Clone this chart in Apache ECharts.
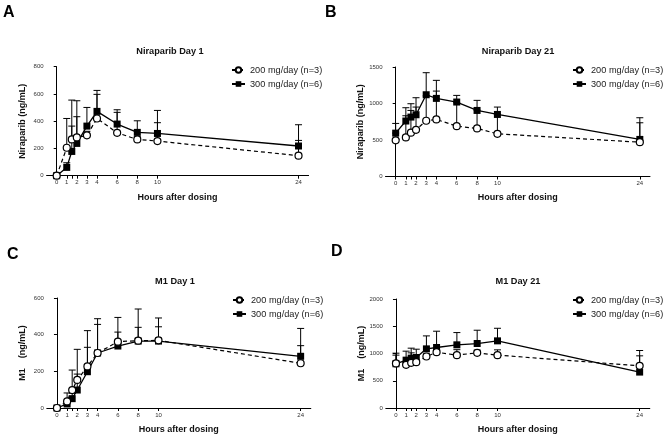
<!DOCTYPE html>
<html>
<head>
<meta charset="utf-8">
<script src="https://cdn.jsdelivr.net/npm/echarts@6/dist/echarts.min.js"></script>
<style>html,body{margin:0;padding:0;background:#fff}#c{width:666px;height:438px}</style>
</head>
<body>
<div id="c"></div>
<script>
// ---- data ----
const times = [0, 1, 1.5, 2, 3, 4, 6, 8, 10, 24];
const tickHours = [0, 1, 1.5, 2, 3, 4, 6, 8, 10, 24];
const labelHours = [0, 1, 2, 3, 4, 6, 8, 10, 24];
const seriesNames = ['200 mg/day (n=3)', '300 mg/day (n=6)'];
const panelLetters = ['A', 'B', 'C', 'D'];
const panelTitles = ['Niraparib Day 1', 'Niraparib Day 21', 'M1 Day 1', 'M1 Day 21'];
const yNames = ['Niraparib (ng/mL)', 'Niraparib (ng/mL)', 'M1    (ng/mL)', 'M1    (ng/mL)'];
const yMax = [800, 1500, 600, 2000];
const yInterval = [200, 500, 200, 500];

// Panel A: Niraparib Day 1
const nirD1_200 = [0, 205, 266, 281, 296, 420, 315, 266, 254, 147];
const nirD1_200_sd = [0, 215, 289, 269, 30, 177, 150, 20, 135, 112];
const nirD1_300 = [0, 61, 178, 237, 364, 472, 379, 318, 310, 218];
const nirD1_300_sd = [0, 34, 186, 196, 137, 154, 105, 85, 169, 156];
// Panel B: Niraparib Day 21
const nirD21_200 = [495, 535, 600, 640, 764, 782, 690, 658, 585, 470];
const nirD21_200_sd = [100, 297, 305, 311, 340, 388, 320, 250, 270, 266];
const nirD21_300 = [594, 760, 814, 846, 1120, 1070, 1020, 905, 850, 508];
const nirD21_300_sd = [133, 182, 183, 233, 302, 247, 91, 138, 101, 297];
// Panel C: M1 Day 1
const m1D1_200 = [0, 36, 98, 153, 227, 300, 362, 367, 369, 244];
const m1D1_200_sd = [0, 46, 109, 167, 195, 187, 132, 173, 122, 96];
const m1D1_300 = [0, 22, 51, 98, 198, 300, 338, 365, 365, 282];
const m1D1_300_sd = [0, 15, 30, 87, 133, 156, 76, 75, 78, 152];
// Panel D: M1 Day 21
const m1D21_200 = [817, 793, 829, 841, 945, 1024, 970, 1012, 970, 774];
const m1D21_200_sd = [153, 40, 183, 30, 50, 50, 100, 50, 97, 281];
const m1D21_300 = [811, 878, 915, 927, 1085, 1110, 1159, 1183, 1232, 659];
const m1D21_300_sd = [195, 165, 183, 152, 238, 299, 225, 244, 231, 298];

const panels = [
  [nirD1_200, nirD1_200_sd, nirD1_300, nirD1_300_sd],
  [nirD21_200, nirD21_200_sd, nirD21_300, nirD21_300_sd],
  [m1D1_200, m1D1_200_sd, m1D1_300, m1D1_300_sd],
  [m1D21_200, m1D21_200_sd, m1D21_300, m1D21_300_sd]
];

// ---- layout ----
const FONT = 'Liberation Sans, Arial, sans-serif';
const grids = [
  {left: 46.6, top: 66.7, width: 262, height: 109},
  {left: 385.5, top: 67, width: 264.5, height: 109.5},
  {left: 46.8, top: 298, width: 264, height: 110},
  {left: 385.8, top: 299, width: 264, height: 109}
];
const letterPos = [[3, 5], [325, 5], [7, 247], [331, 244]];
const titlePos = [[170, 47], [518, 47], [175, 277], [518, 277]];
const legendPos = [[231, 65.5], [572, 65.5], [232, 295.5], [572, 295.5]];

const chart = echarts.init(document.getElementById('c'), null, {renderer: 'canvas'});

const title = [], xAxis = [], yAxis = [], legend = [], series = [];
panels.forEach((p, i) => {
  title.push({text: panelLetters[i], left: letterPos[i][0], top: letterPos[i][1], padding: 0,
    textStyle: {fontFamily: FONT, fontWeight: 'bold', fontSize: 16, color: '#000'}});
  title.push({text: panelTitles[i], left: titlePos[i][0], top: titlePos[i][1], padding: 0, textAlign: 'center',
    textStyle: {fontFamily: FONT, fontWeight: 'bold', fontSize: 9.2, color: '#111'}});
  xAxis.push({
    type: 'value', gridIndex: i, min: -1, max: 25,
    name: 'Hours after dosing', nameLocation: 'middle', nameGap: 17,
    nameTextStyle: {fontFamily: FONT, fontWeight: 'bold', fontSize: 9, color: '#111'},
    axisLine: {show: true, onZero: false, lineStyle: {color: '#000', width: 1}},
    axisTick: {show: true, length: 3, customValues: tickHours, lineStyle: {color: '#000'}},
    axisLabel: {customValues: labelHours, fontFamily: FONT, fontSize: 6, color: '#333', margin: 4},
    splitLine: {show: false}
  });
  yAxis.push({
    type: 'value', gridIndex: i, min: 0, max: yMax[i], interval: yInterval[i],
    name: yNames[i], nameLocation: 'middle', nameGap: 20, nameRotate: 90,
    nameTextStyle: {fontFamily: FONT, fontWeight: 'bold', fontSize: 9, color: '#111'},
    axisLine: {show: true, lineStyle: {color: '#000', width: 1}},
    axisTick: {show: true, length: 3, lineStyle: {color: '#000'}},
    axisLabel: {fontFamily: FONT, fontSize: 6, color: '#333', margin: 3, formatter: v => String(v)},
    splitLine: {show: false}
  });
  legend.push({
    data: seriesNames, orient: 'vertical', left: legendPos[i][0], top: legendPos[i][1],
    padding: 0, itemWidth: 13, itemHeight: 7, itemGap: 5,
    textStyle: {fontFamily: FONT, fontSize: 9.2, color: '#222'}, selectedMode: false
  });
  const [m200, s200, m300, s300] = p;
  const errSeries = (means, sds, nm) => ({
    type: 'custom', name: nm, xAxisIndex: i, yAxisIndex: i, silent: true, z: 1,
    data: times.map((t, k) => [t, means[k], sds[k]]),
    encode: {x: 0, y: 1},
    renderItem: (params, api) => {
      const x = api.value(0), m = api.value(1), s = api.value(2);
      const a = api.coord([x, m]), b = api.coord([x, m + s]);
      const st = {stroke: '#000', lineWidth: 1};
      return {type: 'group', children: [
        {type: 'line', shape: {x1: a[0], y1: a[1], x2: b[0], y2: b[1]}, style: st},
        {type: 'line', shape: {x1: b[0] - 3.5, y1: b[1], x2: b[0] + 3.5, y2: b[1]}, style: st}
      ]};
    }
  });
  series.push(errSeries(m300, s300, 'err300_' + i));
  series.push(errSeries(m200, s200, 'err200_' + i));
  series.push({
    type: 'line', name: seriesNames[1], xAxisIndex: i, yAxisIndex: i, z: 3,
    data: times.map((t, k) => [t, m300[k]]),
    symbol: 'rect', symbolSize: 7, showAllSymbol: true,
    itemStyle: {color: '#000'},
    lineStyle: {color: '#000', width: 1.3, type: 'solid'}
  });
  series.push({
    type: 'line', name: seriesNames[0], xAxisIndex: i, yAxisIndex: i, z: 4,
    data: times.map((t, k) => [t, m200[k]]),
    symbol: 'circle', symbolSize: 7, showAllSymbol: true,
    itemStyle: {color: '#fff', borderColor: '#000', borderWidth: 1.2},
    lineStyle: {color: '#000', width: 1.2, type: [4, 3]}
  });
});

chart.setOption({
  animation: false,
  backgroundColor: '#fff',
  title, grid: grids, xAxis, yAxis, legend, series
});
</script>
</body>
</html>
